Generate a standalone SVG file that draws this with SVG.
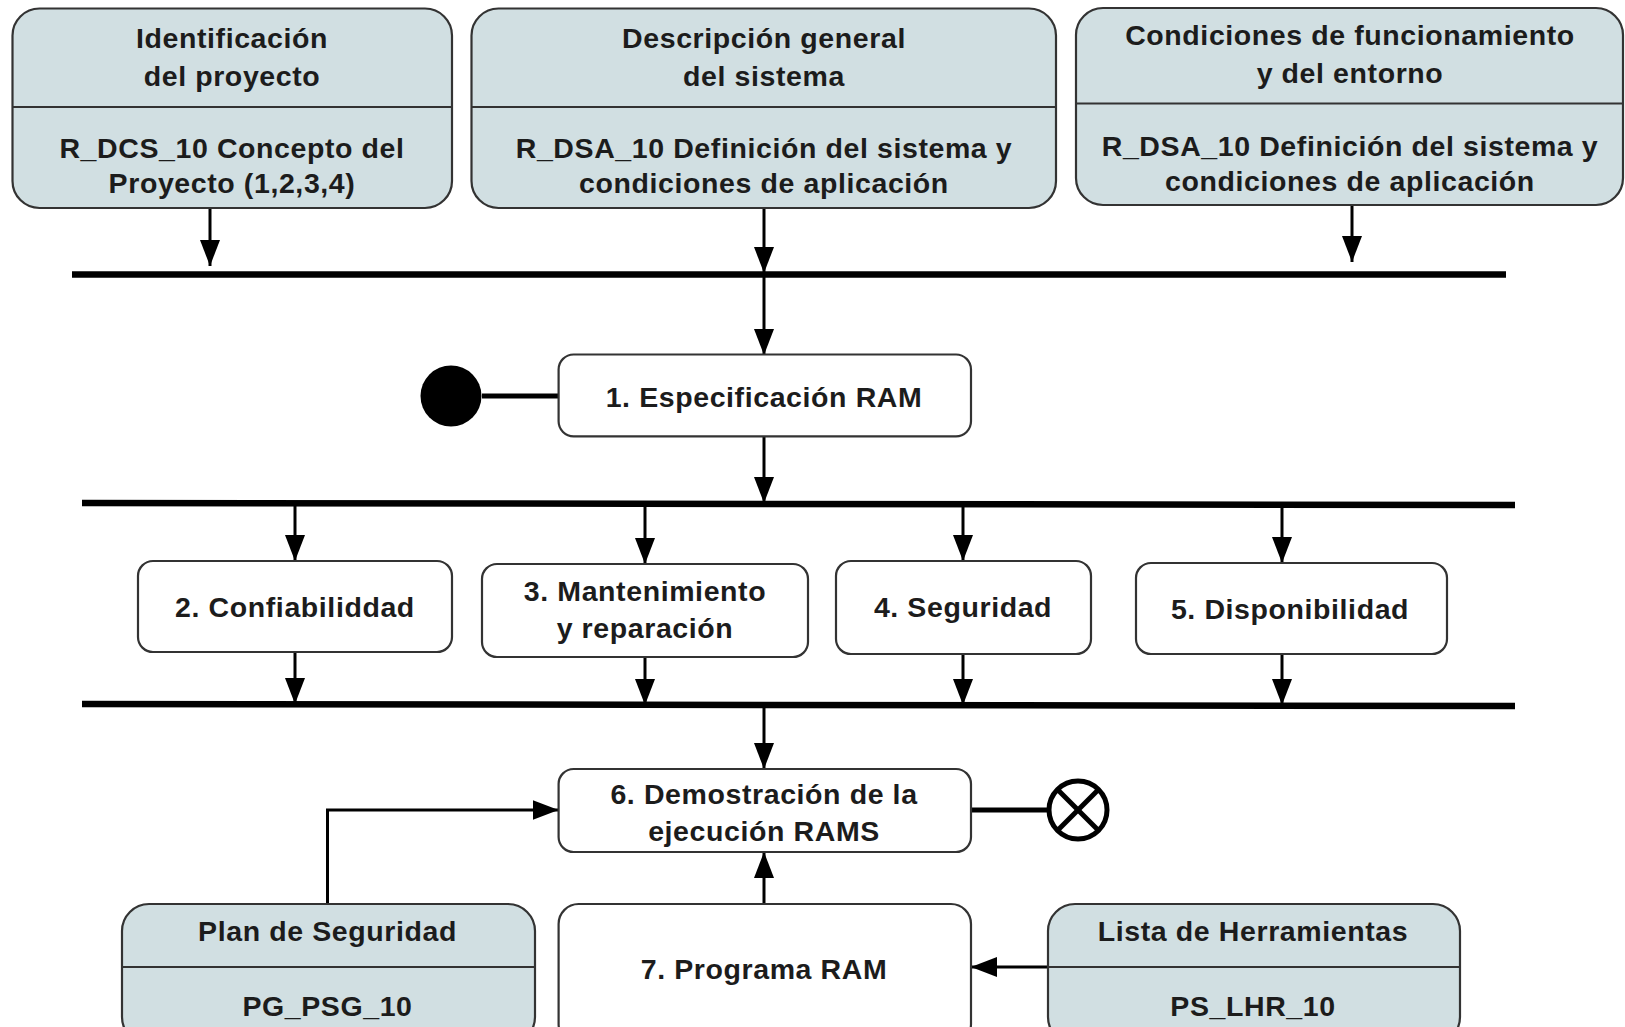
<svg xmlns="http://www.w3.org/2000/svg" width="1625" height="1027" viewBox="0 0 1625 1027">
<defs>
<marker id="ah" markerUnits="userSpaceOnUse" markerWidth="26" markerHeight="20" refX="26" refY="10" orient="auto">
<path d="M0,0 L26,10 L0,20 z" fill="#000"/>
</marker>
<style>
.doc{fill:#d1dfe2;stroke:#333;stroke-width:2.2}
.act{fill:#fff;stroke:#333;stroke-width:2.2}
.div{stroke:#333;stroke-width:2.2}
.t{font-family:"Liberation Sans",Arial,sans-serif;font-weight:bold;font-size:28.5px;fill:#1c1c1c;text-anchor:middle;letter-spacing:0.6px}
.bar{stroke:#000;stroke-width:6.5;fill:none}
.c{stroke:#000;stroke-width:3;fill:none}
.ca{stroke:#000;stroke-width:3;fill:none;marker-end:url(#ah)}
.thick{stroke:#000;stroke-width:5;fill:none}
</style>
</defs>
<rect width="1625" height="1027" fill="#fff"/>

<g id="connectors">
<line class="bar" x1="72" y1="274.5" x2="1506" y2="274.5"/>
<line class="bar" x1="82" y1="503" x2="1515" y2="505"/>
<line class="bar" x1="82" y1="704" x2="1515" y2="706"/>
<line class="ca" x1="210" y1="208" x2="210" y2="266"/>
<line class="ca" x1="764" y1="208" x2="764" y2="273"/>
<line class="ca" x1="1352" y1="205" x2="1352" y2="262"/>
<line class="ca" x1="764" y1="275" x2="764" y2="355"/>
<line class="thick" x1="482" y1="396" x2="559" y2="396"/>
<line class="ca" x1="764" y1="436" x2="764" y2="503"/>
<line class="ca" x1="295" y1="505" x2="295" y2="561"/>
<line class="ca" x1="645" y1="505" x2="645" y2="564"/>
<line class="ca" x1="963" y1="505" x2="963" y2="561"/>
<line class="ca" x1="1282" y1="505" x2="1282" y2="563"/>
<line class="ca" x1="295" y1="652" x2="295" y2="704"/>
<line class="ca" x1="645" y1="657" x2="645" y2="705"/>
<line class="ca" x1="963" y1="654" x2="963" y2="705"/>
<line class="ca" x1="1282" y1="654" x2="1282" y2="705"/>
<line class="ca" x1="764" y1="706" x2="764" y2="769"/>
<line class="thick" x1="971" y1="810" x2="1048" y2="810"/>
<polyline class="ca" points="327.5,904 327.5,810 558.6,810"/>
<line class="ca" x1="764" y1="904" x2="764" y2="852"/>
<line class="ca" x1="1048" y1="967" x2="971" y2="967"/>
</g>

<g id="n-identificacion">
<rect class="doc" x="12.5" y="8.5" width="439.5" height="199.5" rx="27"/>
<line class="div" x1="12.5" y1="107" x2="452" y2="107"/>
<text class="t" x="232" y="47.5">Identificación</text>
<text class="t" x="232" y="86">del proyecto</text>
<text class="t" x="232" y="158">R_DCS_10 Concepto del</text>
<text class="t" x="232" y="192.5">Proyecto (1,2,3,4)</text>
</g>

<g id="n-descripcion">
<rect class="doc" x="471.5" y="8.5" width="584.5" height="199.5" rx="27"/>
<line class="div" x1="471.5" y1="107" x2="1056" y2="107"/>
<text class="t" x="764" y="47.5">Descripción general</text>
<text class="t" x="764" y="86">del sistema</text>
<text class="t" x="764" y="158">R_DSA_10 Definición del sistema y</text>
<text class="t" x="764" y="192.5">condiciones de aplicación</text>
</g>

<g id="n-condiciones">
<rect class="doc" x="1076" y="8" width="547" height="197" rx="27"/>
<line class="div" x1="1076" y1="103.5" x2="1623" y2="103.5"/>
<text class="t" x="1350" y="44.5">Condiciones de funcionamiento</text>
<text class="t" x="1350" y="82.5">y del entorno</text>
<text class="t" x="1350" y="156">R_DSA_10 Definición del sistema y</text>
<text class="t" x="1350" y="190.5">condiciones de aplicación</text>
</g>

<g id="n-inicio">
<circle cx="451" cy="396" r="30.5" fill="#000"/>
</g>

<g id="n-1">
<rect class="act" x="558.6" y="354.5" width="412.4" height="81.8" rx="15"/>
<text class="t" x="764" y="407">1. Especificación RAM</text>
</g>

<g id="n-2">
<rect class="act" x="138" y="561" width="314" height="91" rx="15"/>
<text class="t" x="295" y="617">2. Confiabiliddad</text>
</g>

<g id="n-3">
<rect class="act" x="482" y="564" width="326" height="93" rx="15"/>
<text class="t" x="645" y="601">3. Mantenimiento</text>
<text class="t" x="645" y="638">y reparación</text>
</g>

<g id="n-4">
<rect class="act" x="836" y="561" width="255" height="93" rx="15"/>
<text class="t" x="963" y="617">4. Seguridad</text>
</g>

<g id="n-5">
<rect class="act" x="1136" y="563" width="311" height="91" rx="15"/>
<text class="t" x="1290" y="619">5. Disponibilidad</text>
</g>

<g id="n-6">
<rect class="act" x="558.6" y="769" width="412.4" height="83" rx="15"/>
<text class="t" x="764" y="804">6. Demostración de la</text>
<text class="t" x="764" y="841">ejecución RAMS</text>
</g>

<g id="n-fin">
<circle cx="1078" cy="810" r="29" fill="#fff" stroke="#000" stroke-width="5"/>
<line x1="1057.5" y1="789.5" x2="1098.5" y2="830.5" stroke="#000" stroke-width="5"/>
<line x1="1098.5" y1="789.5" x2="1057.5" y2="830.5" stroke="#000" stroke-width="5"/>
</g>

<g id="n-7">
<rect class="act" x="558.6" y="904" width="412.4" height="140" rx="20"/>
<text class="t" x="764" y="979">7. Programa RAM</text>
</g>

<g id="n-plan">
<rect class="doc" x="122" y="904" width="413" height="140" rx="27"/>
<line class="div" x1="122" y1="967" x2="535" y2="967"/>
<text class="t" x="327.5" y="941">Plan de Seguridad</text>
<text class="t" x="327.5" y="1016">PG_PSG_10</text>
</g>

<g id="n-lista">
<rect class="doc" x="1048" y="904" width="412" height="140" rx="27"/>
<line class="div" x1="1048" y1="967" x2="1460" y2="967"/>
<text class="t" x="1253" y="941">Lista de Herramientas</text>
<text class="t" x="1253" y="1016">PS_LHR_10</text>
</g>
</svg>
